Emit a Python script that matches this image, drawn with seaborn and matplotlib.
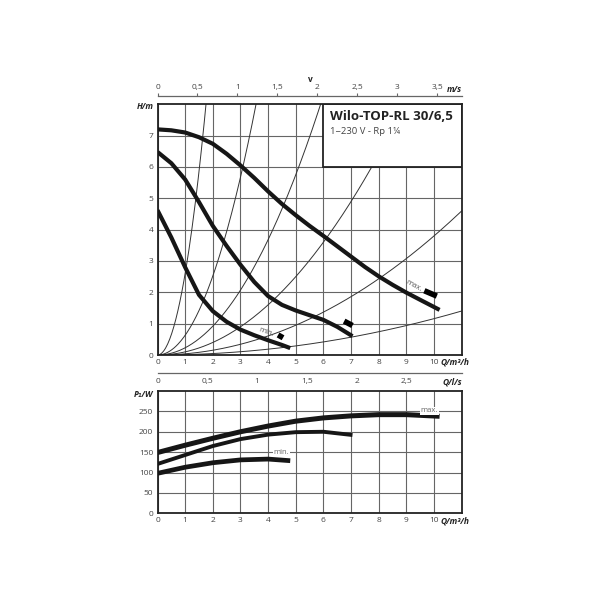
import numpy as np
import pandas as pd
import matplotlib
matplotlib.use('Agg')
import matplotlib.pyplot as plt
import seaborn as sns
from matplotlib.patches import Rectangle

# pump curves H(Q)
q_max = [0, 0.5, 1, 1.5, 2, 2.5, 3, 3.5, 4, 4.5, 5, 5.5, 6, 6.5, 7, 7.5, 8, 8.5, 9, 9.5, 10.2]
h_max = [7.2, 7.17, 7.1, 6.95, 6.74, 6.42, 6.05, 5.65, 5.22, 4.82, 4.46, 4.12, 3.8, 3.47, 3.14, 2.81, 2.51, 2.24, 1.99, 1.76, 1.44]
q_mid = [0, 0.5, 1, 1.5, 2, 2.5, 3, 3.5, 4, 4.5, 5, 5.5, 6, 6.5, 7.05]
h_mid = [6.48, 6.12, 5.6, 4.88, 4.12, 3.48, 2.88, 2.33, 1.88, 1.6, 1.42, 1.27, 1.12, 0.9, 0.6]
q_min = [0, 0.5, 1, 1.5, 2, 2.5, 3, 3.5, 4, 4.5, 4.8]
h_min = [4.62, 3.75, 2.8, 1.92, 1.4, 1.06, 0.81, 0.63, 0.47, 0.32, 0.22]

k_system = [2.6, 0.63, 0.23, 0.1, 0.038, 0.0116]

# speed stage markers on the H(Q) curves
mark_q = [[9.65, 10.1], [6.75, 7.05], [4.36, 4.54]]
mark_h = [[2.05, 1.88], [1.08, 0.94], [0.64, 0.55]]

# power curves P1(Q)
pq_max = [0, 1, 2, 3, 4, 5, 6, 7, 8, 9, 10.2]
p_max = [149, 167, 184, 200, 214, 226, 234, 239, 242, 242, 238]
pq_mid = [0, 1, 2, 3, 4, 5, 6, 7.05]
p_mid = [121, 143, 165, 182, 193, 199, 200, 192]
pq_min = [0, 1, 2, 3, 4, 4.8]
p_min = [98, 113, 124, 131, 133, 129]

v_ticks = [0, 0.5, 1, 1.5, 2, 2.5, 3, 3.5]
v_labels = ['0', '0,5', '1', '1,5', '2', '2,5', '3', '3,5']
ls_ticks = [0, 0.5, 1, 1.5, 2, 2.5]
ls_labels = ['0', '0,5', '1', '1,5', '2', '2,5']
v_per_q = 0.346
ls_per_q = 1 / 3.6

sns.set_theme(style="white")
plt.rcParams['font.family'] = ['Open Sans', 'DejaVu Sans']

grid_c = '#666666'
txt_c = '#444444'
curve_c = '#161616'
fs = 6

fig = plt.figure(figsize=(6, 6), dpi=100)
L, W = 157.5 / 600, 304.2 / 600
ax1 = fig.add_axes([L, 1 - 355 / 600, W, 250.7 / 600])
ax2 = fig.add_axes([L, 1 - 513.3 / 600, W, 122.3 / 600])

for ax in (ax1, ax2):
  for s in ax.spines.values():
    s.set_linewidth(1.3)
    s.set_color('#222222')
  ax.grid(True, color=grid_c, linewidth=0.8)
  ax.tick_params(length=0, labelsize=fs, labelcolor=txt_c, pad=3)

# ---- top: H(Q)
for k in k_system:
  qs = np.linspace(0, 11, 300)
  sns.lineplot(x=qs, y=k * qs ** 2, ax=ax1, color='#333333', linewidth=0.7, zorder=1.5, estimator=None)
for q, h in [(q_max, h_max), (q_mid, h_mid), (q_min, h_min)]:
  sns.lineplot(x=q, y=h, ax=ax1, color=curve_c, linewidth=3.0, zorder=3, estimator=None,
               solid_capstyle='butt', solid_joinstyle='round')
for q, h in zip(mark_q, mark_h):
  ax1.plot(q, h, color='black', linewidth=4, solid_capstyle='butt', zorder=3)

ax1.set_xlim(0, 11)
ax1.set_ylim(0, 8)
ax1.set_xticks(range(0, 11))
ax1.set_xticklabels([str(i) for i in range(0, 11)])
ax1.set_yticks(range(0, 8))
ax1.set_xlabel('')
ax1.set_ylabel('')

ax1.add_patch(Rectangle((6, 6), 5, 2, facecolor='white', edgecolor='#222222', linewidth=1.3, zorder=2.5))
ax1.text(6.22, 7.5, 'Wilo-TOP-RL 30/6,5', fontsize=9.5, fontweight='bold', color='#222222', zorder=5)
ax1.text(6.22, 7.05, '1~230 V - Rp 1¼', fontsize=6.8, color='#444444', zorder=5)

ax1.text(9.28, 2.22, 'max.', fontsize=5.5, color='#555555', rotation=-29, ha='center', va='center', zorder=4)
ax1.text(3.94, 0.72, 'min.', fontsize=5.5, color='#555555', rotation=-20, ha='center', va='center', zorder=4)

ax1.text(-0.15, 7.94, 'H/m', fontsize=fs, fontweight='bold', style='italic', color='#222222', ha='right', va='center')
ax1.text(10.22, -0.028, 'Q/m³/h', fontsize=fs, fontweight='bold', style='italic', color='#222222',
         ha='left', va='center', transform=ax1.get_xaxis_transform())

# velocity axis above
axv = fig.add_axes([L, 1 - 96 / 600, W, 0.0001])
axv.set_xlim(0, 11 * v_per_q)
axv.set_xticks(v_ticks)
axv.set_xticklabels(v_labels)
axv.set_yticks([])
for s in ['left', 'right', 'bottom']:
  axv.spines[s].set_visible(False)
axv.spines['top'].set_color(grid_c)
axv.spines['top'].set_linewidth(0.9)
axv.xaxis.tick_top()
axv.tick_params(axis='x', direction='out', length=2, width=0.8, color=grid_c, labelsize=fs, labelcolor=txt_c, pad=1.5)
axv.patch.set_alpha(0)
fig.text(310 / 600, 1 - 79 / 600, 'v', fontsize=fs, fontweight='bold', color='#222222', ha='center', va='center')
fig.text(462 / 600, 1 - 90 / 600, 'm/s', fontsize=fs, fontweight='bold', style='italic', color='#222222', ha='right', va='center')

# l/s axis below
axl = fig.add_axes([L, 1 - 372.7 / 600, W, 0.0001])
axl.set_xlim(0, 11 * ls_per_q)
axl.set_xticks(ls_ticks)
axl.set_xticklabels(ls_labels)
axl.set_yticks([])
for s in ['left', 'right', 'top']:
  axl.spines[s].set_visible(False)
axl.spines['bottom'].set_color(grid_c)
axl.spines['bottom'].set_linewidth(0.9)
axl.tick_params(axis='x', direction='in', length=2, width=0.8, color=grid_c, labelsize=fs, labelcolor=txt_c, pad=4)
axl.patch.set_alpha(0)
fig.text(462 / 600, 1 - 382 / 600, 'Q/l/s', fontsize=fs, fontweight='bold', style='italic', color='#222222', ha='right', va='center')

# ---- bottom: P1(Q)
for q, p, lw in [(pq_max, p_max, 3.6), (pq_mid, p_mid, 2.8), (pq_min, p_min, 3.4)]:
  sns.lineplot(x=q, y=p, ax=ax2, color=curve_c, linewidth=lw, zorder=3, estimator=None,
               solid_capstyle='butt', solid_joinstyle='round')
ax2.set_xlim(0, 11)
ax2.set_ylim(0, 300)
ax2.set_xticks(range(0, 11))
ax2.set_yticks(range(0, 300, 50))
ax2.set_xlabel('')
ax2.set_ylabel('')
ax2.text(9.83, 251, 'max.', fontsize=5.5, color='#666666', ha='center', va='center', zorder=4,
         bbox=dict(facecolor='white', edgecolor='none', pad=0.6))
ax2.text(4.49, 149, 'min.', fontsize=5.5, color='#666666', ha='center', va='center', zorder=4,
         bbox=dict(facecolor='white', edgecolor='none', pad=0.6))
ax2.text(-0.15, 292, 'P₁/W', fontsize=fs, fontweight='bold', style='italic', color='#222222', ha='right', va='center')
ax2.text(10.22, -0.06, 'Q/m³/h', fontsize=fs, fontweight='bold', style='italic', color='#222222',
         ha='left', va='center', transform=ax2.get_xaxis_transform())

fig.savefig('out.png', dpi=100, facecolor='white')
